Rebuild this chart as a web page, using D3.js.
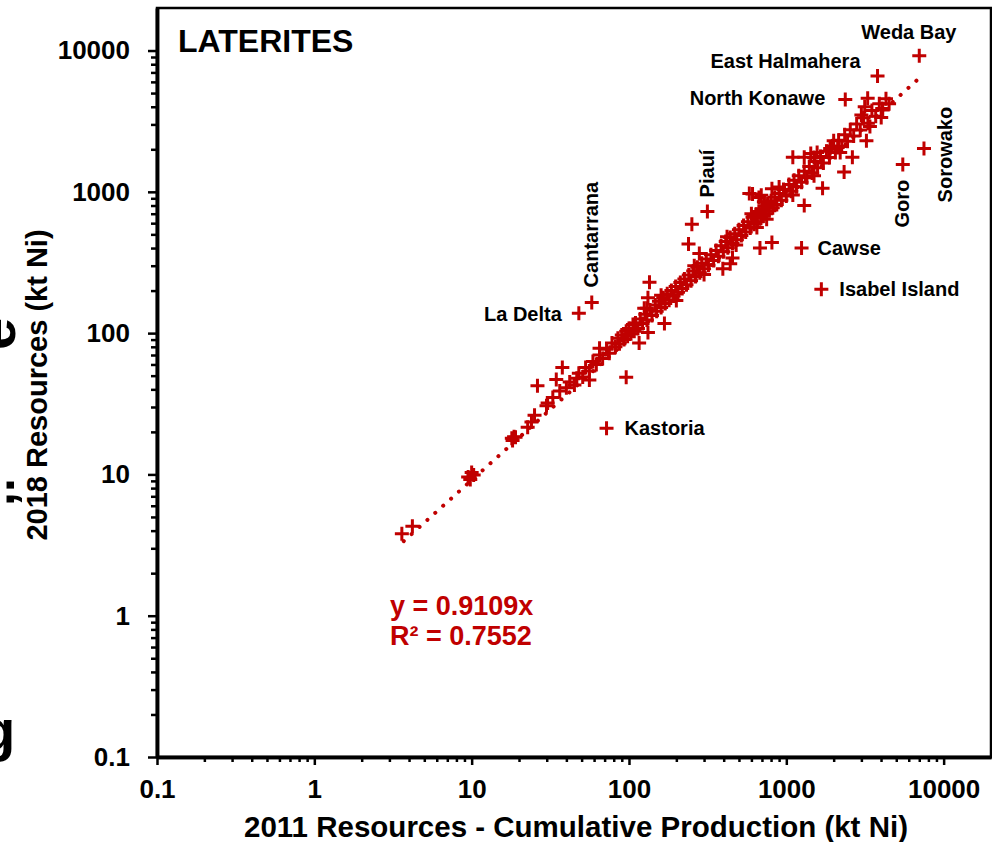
<!DOCTYPE html>
<html>
<head>
<meta charset="utf-8">
<script src="https://cdn.jsdelivr.net/npm/d3@7"></script>
<style>
body { margin: 0; background: #fff; }
svg text { font-family: "Liberation Sans", Arial, sans-serif; font-weight: bold; }
</style>
</head>
<body>
<script>
// named deposits: [name, 2011 resources - cum. production, 2018 resources] (kt Ni)
var namedDeposits = [
  ['Weda Bay', 7000, 9200],
  ['East Halmahera', 3800, 6600],
  ['North Konawe', 2370, 4500],
  ['Sorowako', 7500, 2030],
  ['Goro', 5500, 1560],
  ['Cawse', 1250, 400],
  ['Isabel Island', 1670, 204],
  ['Kastoria', 72, 21.2],
  ['La Delta', 48, 138],
  ['Cantarrana', 58, 165],
  ['Piauí', 315, 727]
];

// other laterite deposits along the trend [x, y]
var deposits = [
  [3.6,3.8],[4.2,4.3],
  [9.5,9.6],[10,10.3],[9.8,9.2],[10.3,9.9],
  [18,18],[18.6,18.5],[18.2,17.4],[19,18.3],
  [22.7,21.6],[24,23.5],[25.1,26.2],[29.9,30.6],[30.4,32],[32.8,35],[36.3,39],
  [40,41],[42,45],[45,43],[46.6,48],[48,52],[50.8,49],[53,57],[56,54],[59,63],[62,60],
  [65,70],[68,66],[72,77],[75,72],[78,85],[82,80],[85,92],[87,84],[90,97],[93,90],
  [96,103],[98,95],[100,108],[103,99],[106,115],[108,103],[110,118],[114,108],[118,126],
  [122,117],[127,136],[130,124],[136,146],[140,133],[147,158],[150,143],[155,168],
  [160,152],[165,178],[170,162],[175,190],[180,171],[186,200],[192,183],[198,214],
  [205,195],[212,228],[218,207],[225,242],[232,220],[240,258],[248,235],[256,275],
  [265,252],[272,292],[282,268],[290,312],[300,285],[310,335],[320,302],[332,358],
  [345,326],[358,385],[370,350],[385,415],[398,376],[412,445],[425,402],[440,475],
  [455,430],[470,505],[485,458],[500,540],[518,490],[535,578],[552,520],[570,615],
  [590,555],[610,660],[625,590],[640,690],[655,615],[670,725],[690,650],[700,760],
  [715,675],[730,790],[745,700],[760,820],[780,735],[800,865],[820,770],[845,915],
  [870,815],[900,975],[930,870],[960,1040],[1000,935],[1040,1125],[1077,1010],
  [1120,1210],[1160,1085],[1200,1300],[1250,1170],[1300,1400],[1350,1260],[1400,1510],
  [1460,1360],[1520,1640],[1580,1480],[1650,1780],[1720,1600],[1800,1940],[1880,1750],
  [1960,2110],[2050,1900],[2150,2320],[2250,2090],[2350,2540],[2450,2280],[2550,2750],
  [2680,2480],[2800,3020],[2950,2740],[3100,3340],[3300,3060],[3500,3770],[3700,3430],
  [3900,4200],[4100,3800],[4300,4550],[4500,4200],
  [130,150],[160,185],[200,170],[260,300],[300,260],[420,480],[480,420],[600,700],
  [650,560],[720,850],[750,640],[900,1080],[1100,950],[1500,1300],[1500,1750],
  [2000,2300],[2200,1900],[3000,3500],[3400,2900]
];

// deposits well off the trend [x, y]
var outliers = [
  [26.2,42.5],[34.5,47],[37.7,57],[56,46.6],[65,78],[96,48.7],[116,85],[125,150],
  [132,101],[132,178],[135,229],[168,117],[239,427],[251,590],[280,366],[395,286],
  [440,310],[455,340],[582,975],[610,966],[670,910],[680,400],[693,944],[810,437],
  [810,1050],[1100,1760],[1300,800],[1300,1760],[1430,1870],[1570,1900],[1700,1060],
  [1900,2030],[2120,2060],[2330,1380],[2630,1760],[3150,4000],[3230,2300],[3290,4600],
  [4010,3360],[4070,3890]
];

var trendSlope = 0.9109;
var trendExtent = [3.7, 7200];
var equationLines = ['y = 0.9109x', 'R\u00b2 = 0.7552'];
var majorTicks = [0.1, 1, 10, 100, 1000, 10000];
var panelTitle = 'LATERITES';
var xTitle = '2011 Resources - Cumulative Production (kt Ni)';
var yTitle = '2018 Resources (kt Ni)';

var red = '#c00000';

var minorTicks = [];
majorTicks.forEach(function(m) {
  for (var k = 2; k <= 9; k++) minorTicks.push(+(m * k).toPrecision(3));
});

var svg = d3.select('body').append('svg')
  .attr('width', 992)
  .attr('height', 842);

var x = d3.scaleLog().domain([0.1, 20000]).range([157, 991]);
var y = d3.scaleLog().domain([0.1, 20000]).range([757, 8]);

// frame
svg.append('rect')
  .attr('x', x.range()[0]).attr('y', y.range()[1])
  .attr('width', x.range()[1] - x.range()[0])
  .attr('height', y.range()[0] - y.range()[1])
  .attr('fill', 'none').attr('stroke', '#000').attr('stroke-width', 2.5);

function styleAxis(g) {
  g.select('.domain').attr('stroke-width', 3.5);
  g.selectAll('.tick line').attr('stroke-width', 2.5);
  g.selectAll('.tick text').attr('font-size', 26).attr('fill', '#000')
    .attr('font-family', '"Liberation Sans", Arial, sans-serif');
}

svg.append('g').attr('transform', 'translate(0,757)')
  .call(d3.axisBottom(x).tickValues(minorTicks.filter(function(d){ return d < 20000; }))
    .tickSize(5).tickSizeOuter(0).tickFormat(''))
  .call(styleAxis);
svg.append('g').attr('transform', 'translate(0,757)')
  .call(d3.axisBottom(x).tickValues(majorTicks).tickSize(8).tickSizeOuter(0)
    .tickPadding(15).tickFormat(function(d){ return String(d); }))
  .call(styleAxis);

svg.append('g').attr('transform', 'translate(157,0)')
  .call(d3.axisLeft(y).tickValues(minorTicks.filter(function(d){ return d < 20000; }))
    .tickSize(6).tickSizeOuter(0).tickFormat(''))
  .call(styleAxis);
svg.append('g').attr('transform', 'translate(157,0)')
  .call(d3.axisLeft(y).tickValues(majorTicks).tickSize(9).tickSizeOuter(0)
    .tickPadding(18).tickFormat(function(d){ return String(d); }))
  .call(styleAxis);

// axis titles
svg.append('text')
  .attr('x', 576).attr('y', 837)
  .attr('text-anchor', 'middle')
  .attr('font-size', 29.5)
  .text(xTitle);

svg.append('text')
  .attr('transform', 'translate(47,385) rotate(-90)')
  .attr('text-anchor', 'middle')
  .attr('font-size', 29)
  .text(yTitle);

// bits of neighbouring panel text cut by the crop
svg.append('text').attr('transform', 'translate(15,350) rotate(-90)')
  .attr('font-size', 58).text('e');
svg.append('text').attr('transform', 'translate(14,506) rotate(-90)')
  .attr('font-size', 50).text(',.');
svg.append('text').attr('x', -20).attr('y', 750)
  .attr('font-size', 58).text('g');

// panel title
svg.append('text')
  .attr('x', 178).attr('y', 52)
  .attr('font-size', 32)
  .text(panelTitle);

// points
var cross = 'M-7,0H7M0,-7V7';
var allPts = deposits.concat(outliers)
  .concat(namedDeposits.map(function(d){ return [d[1], d[2]]; }));

svg.append('g').selectAll('path')
  .data(allPts)
  .enter().append('path')
  .attr('d', cross)
  .attr('transform', function(d){ return 'translate(' + x(d[0]) + ',' + y(d[1]) + ')'; })
  .attr('stroke', red)
  .attr('stroke-width', 3)
  .attr('fill', 'none');

// trendline (dotted)
svg.append('line')
  .attr('x1', x(trendExtent[0])).attr('y1', y(trendSlope * trendExtent[0]))
  .attr('x2', x(trendExtent[1])).attr('y2', y(trendSlope * trendExtent[1]))
  .attr('stroke', red)
  .attr('stroke-width', 4)
  .attr('stroke-linecap', 'round')
  .attr('stroke-dasharray', '0.1 10.5');

// equation
svg.append('g').selectAll('text')
  .data(equationLines)
  .enter().append('text')
  .attr('x', 390)
  .attr('y', function(d, i){ return 615 + i * 30; })
  .attr('font-size', 27)
  .attr('fill', red)
  .text(function(d){ return d; });

// deposit labels
var labelPlace = {
  'Weda Bay':       { dx: -58, dy: -17, anchor: 'start' },
  'East Halmahera': { dx: -17, dy: -8, anchor: 'end' },
  'North Konawe':   { dx: -20, dy: 5, anchor: 'end' },
  'Cawse':          { dx: 16, dy: 7, anchor: 'start' },
  'Isabel Island':  { dx: 18, dy: 7, anchor: 'start' },
  'Kastoria':       { dx: 18, dy: 7, anchor: 'start' },
  'La Delta':       { dx: -17, dy: 8, anchor: 'end' },
  'Cantarrana':     { dx: 6, dy: -15, anchor: 'start', rot: true },
  'Piauí':          { dx: 7, dy: -14, anchor: 'start', rot: true },
  'Goro':           { dx: 6, dy: 63, anchor: 'start', rot: true },
  'Sorowako':       { dx: 28, dy: 54, anchor: 'start', rot: true }
};

svg.append('g').selectAll('text')
  .data(namedDeposits)
  .enter().append('text')
  .attr('transform', function(d) {
    var p = labelPlace[d[0]];
    var t = 'translate(' + (x(d[1]) + p.dx) + ',' + (y(d[2]) + p.dy) + ')';
    return p.rot ? t + ' rotate(-90)' : t;
  })
  .attr('text-anchor', function(d){ return labelPlace[d[0]].anchor; })
  .attr('font-size', 20)
  .attr('fill', '#000')
  .text(function(d){ return d[0]; });
</script>
</body>
</html>
